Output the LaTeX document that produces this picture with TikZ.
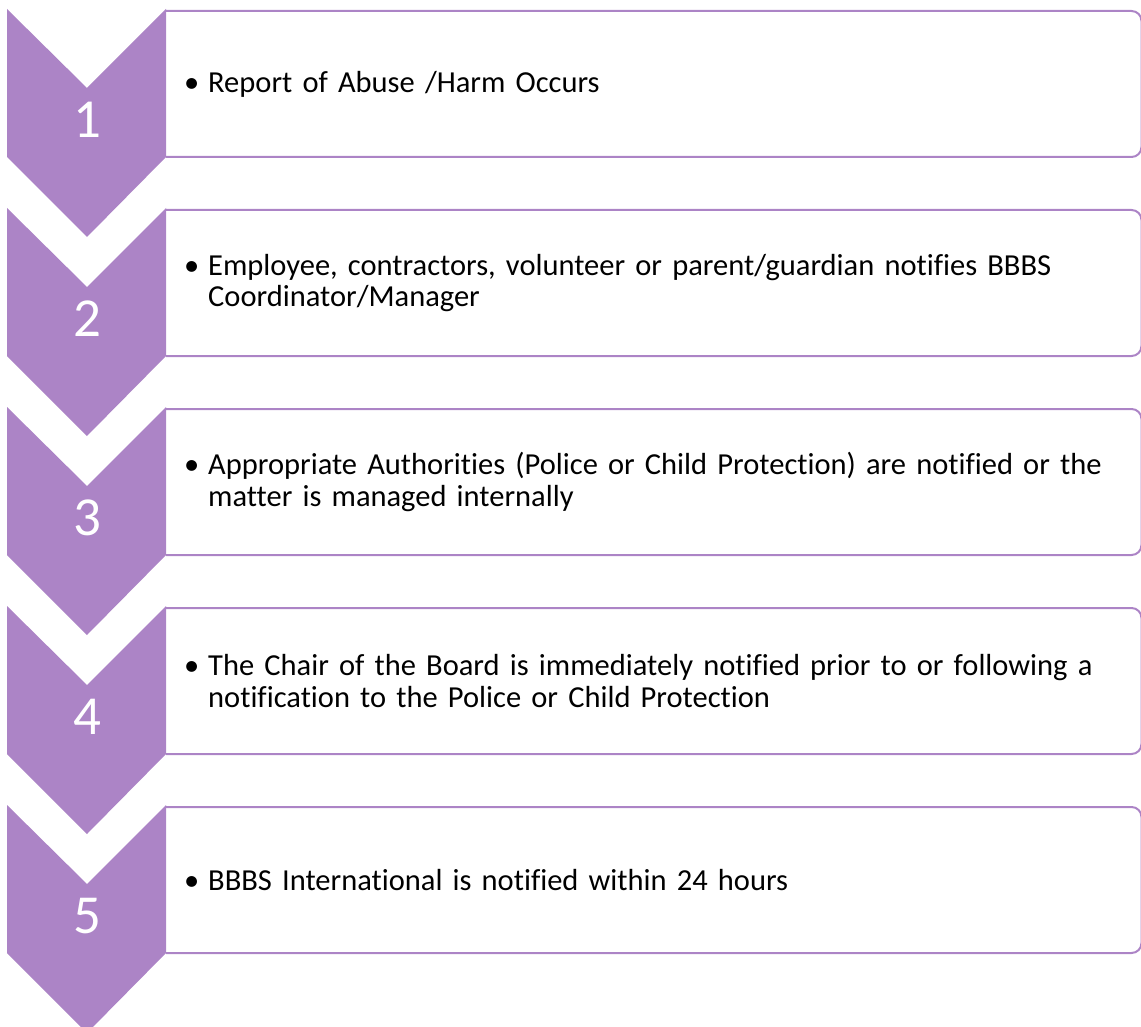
\documentclass[tikz,border=0pt]{standalone}
\usepackage{fontspec}
\setmainfont{Carlito}[Ligatures={NoCommon,NoRare}]
\definecolor{stepviolet}{RGB}{172,132,198}
\newcommand\nextline{\newline\hspace*{24pt}}
\tikzset{
  chevron/.style={fill=stepviolet},
  stepframe/.style={draw=stepviolet, line width=2pt, rounded corners=10pt},
  stepnum/.style={text=white, inner sep=0pt, font=\fontsize{55}{60}\selectfont},
  steptext/.style={anchor=west, inner sep=0pt, text width=950pt, align=left,
    font=\fontsize{30.5}{31.5}\selectfont}
}
\begin{document}
\begin{tikzpicture}[x=1pt,y=-1pt]
\useasboundingbox (0,0) rectangle (1141,1027);
\foreach \i/\txt in {
  1/{Report of Abuse /Harm Occurs},
  2/{Employee, contractors, volunteer or parent/guardian notifies BBBS\nextline Coordinator/Manager},
  3/{Appropriate Authorities (Police or Child Protection) are notified or the\nextline matter is managed internally},
  4/{The Chair of the Board is immediately notified prior to or following a\nextline notification to the Police or Child Protection},
  5/{BBBS International is notified within 24 hours}}{
  \pgfmathsetmacro\ytop{9+199*(\i-1)}
  \draw[stepframe] (166,\ytop+2) -- (1141.5,\ytop+2) -- (1141.5,\ytop+148) -- (166,\ytop+148);
  \fill[chevron] (7,\ytop) -- (87,\ytop+79) -- (166,\ytop) -- (166,\ytop+148)
    -- (87,\ytop+228) -- (7,\ytop+148) -- cycle;
  \node[stepnum] (num\i) at (87,\ytop+111) {\i};
  \node[steptext] (text\i) at (184,\ytop+75) {\makebox[24pt][l]{•}\txt};
}
\end{tikzpicture}
\end{document}
